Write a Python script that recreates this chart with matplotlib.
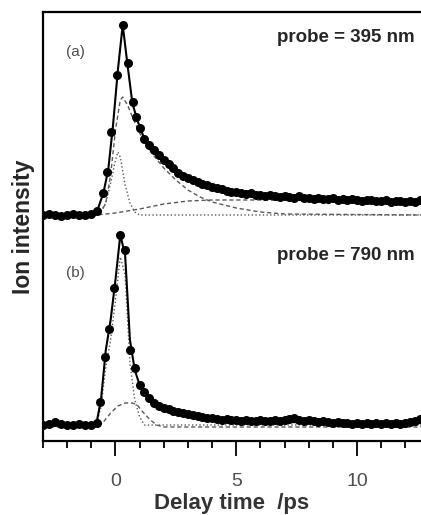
import numpy as np
import matplotlib
matplotlib.use('Agg')
import matplotlib.pyplot as plt
from matplotlib.ticker import MultipleLocator

plt.rcParams['font.family'] = ['Liberation Sans', 'DejaVu Sans']

# ---- panel (a), probe = 395 nm  (intensity above its own baseline) ----
a_x_pre = [-3.0, -2.75, -2.5, -2.25, -2.0, -1.75, -1.5, -1.25, -1.0]
a_h_pre = [0, 1, 0, -1, 0, 1, 0, 0, 1]
a_x_rise = [-0.75, -0.53, -0.36, -0.18, 0.08, 0.3, 0.5, 0.72, 0.86, 1.0]
a_h_rise = [4, 22, 43, 83, 140, 190, 152, 113, 98, 87]
a_x_tail = np.round(np.arange(1.2, 12.61, 0.2), 1)
a_h_tail = [76, 70, 65, 60, 55, 51, 47, 42, 39, 37, 35, 33, 31, 30, 28, 27, 26, 24,
            23, 23, 22, 21, 22, 20, 20, 19, 20, 19, 18, 19, 18, 17, 19, 17, 17, 16,
            17, 16, 16, 17, 15, 16, 15, 16, 15, 14, 15, 15, 14, 14, 15, 13, 14, 14,
            13, 14, 13, 15]

a_fit_x = [-3, -0.9, -0.7, -0.5, -0.3, -0.1, 0.1, 0.3, 0.5, 0.7, 0.9, 1.2, 1.6, 2.0,
           2.5, 3.0, 3.5, 4.0, 5, 6, 7, 8, 10, 12.65]
a_fit_h = [0, 0, 8, 22, 45, 90, 145, 190, 150, 112, 95, 76, 65, 55, 44, 37, 32, 28,
           23, 20, 18, 17, 15, 14]
a_short_x = [-3, -0.9, -0.6, -0.4, -0.2, 0.0, 0.1, 0.2, 0.4, 0.6, 0.8, 1.0, 12.65]
a_short_h = [0, 0, 3, 12, 32, 55, 63, 58, 30, 12, 3, 0, 0]
a_long_x = [-3, -0.9, -0.6, -0.4, -0.2, 0.0, 0.2, 0.3, 0.5, 0.7, 1.0, 1.5, 2.0, 2.5,
            3.0, 3.5, 4.0, 5.0, 6.0, 7.0, 12.65]
a_long_h = [0, 0, 3, 12, 40, 85, 115, 118, 110, 98, 82, 62, 47, 35, 25, 18, 13, 7, 3,
            1, 0]
a_slow_x = [-3, -0.8, 0, 1, 2, 3, 4, 5, 6, 8, 12.65]
a_slow_h = [0, 0, 2, 6, 11, 14, 15, 15, 15, 14.5, 14]

# ---- panel (b), probe = 790 nm ----
b_x_pre = [-3.0, -2.75, -2.5, -2.25, -2.0, -1.75, -1.5, -1.25, -1.0]
b_h_pre = [0, 1, 3, 1, 0, 0, 1, 0, 0]
b_x_rise = [-0.75, -0.66, -0.45, -0.25, -0.04, 0.17, 0.4, 0.62, 0.79, 1.0]
b_h_rise = [2, 23, 68, 96, 137, 190, 175, 75, 57, 40]
b_x_tail = np.round(np.arange(1.2, 12.61, 0.2), 1)
b_h_tail = [33, 27, 22, 19, 17, 16, 14, 13, 12, 11, 10, 9, 8, 7, 7, 6, 5, 6, 5, 5,
            4, 5, 4, 4, 5, 4, 4, 5, 4, 5, 6, 7, 5, 4, 5, 4, 3, 4, 3, 2, 3, 2, 2, 1,
            2, 1, 2, 1, 2, 1, 2, 1, 2, 1, 2, 3, 4, 6]

b_fit_x = [-3, -0.8, -0.6, -0.4, -0.2, 0.0, 0.2, 0.4, 0.6, 0.8, 1.0, 1.3, 1.6, 2.0,
           2.5, 3, 4, 5, 7, 10, 12.65]
b_fit_h = [0, 0, 25, 75, 105, 145, 190, 170, 85, 55, 40, 30, 24, 18, 14, 11, 7, 5, 3,
           2, 2]
b_short_x = [-3, -0.8, -0.6, -0.4, -0.2, 0, 0.2, 0.4, 0.6, 0.8, 1.0, 1.2, 12.65]
b_short_h = [0, 0, 18, 58, 85, 125, 168, 150, 62, 25, 8, 0, 0]
b_slow_x = [-3, -0.8, -0.5, -0.2, 0.1, 0.4, 0.7, 0.9, 1.1, 1.4, 1.7, 2.0, 12.65]
b_slow_h = [-2, -2, 3, 12, 19, 22, 22, 20, 14, 6, 0, -2, -2]

off_a = 226   # vertical offset of panel (a)
off_b = 16

fig = plt.figure(figsize=(4.21, 5.15), dpi=100)
ax = fig.add_axes([43/421, 1 - 441/515, 1 - 43/421, 429/515])

dash = (0, (3, 2))
ax.plot(a_short_x, np.array(a_short_h) + off_a, color='0.35', lw=1, ls=':')
ax.plot(a_long_x, np.array(a_long_h) + off_a, color='0.35', lw=1, ls=dash)
ax.plot(a_slow_x, np.array(a_slow_h) + off_a, color='0.35', lw=1, ls=dash)
ax.plot(b_short_x, np.array(b_short_h) + off_b, color='0.35', lw=1, ls=':')
ax.plot(b_slow_x, np.array(b_slow_h) + off_b, color='0.35', lw=1, ls=dash)

for off, fx, fh, xs, hs in [
        (off_a, a_fit_x, a_fit_h, [a_x_pre, a_x_rise, a_x_tail], [a_h_pre, a_h_rise, a_h_tail]),
        (off_b, b_fit_x, b_fit_h, [b_x_pre, b_x_rise, b_x_tail], [b_h_pre, b_h_rise, b_h_tail])]:
    ax.plot(fx, np.array(fh) + off, 'k-', lw=1.5)
    dx = np.concatenate(xs)
    dh = np.concatenate(hs)
    ax.plot(dx, dh + off, 'o', color='k', ms=6.5, mew=0)

ax.set_xlim(-3, 12.65)
ax.set_ylim(0, 429)
ax.xaxis.set_major_locator(MultipleLocator(5))
ax.xaxis.set_minor_locator(MultipleLocator(1))
ax.tick_params(axis='x', which='major', direction='out', length=11, width=1.3,
               labelsize=14, pad=12, labelcolor='0.3')
ax.tick_params(axis='x', which='minor', direction='out', length=5, width=1.3)
ax.set_yticks([])
ax.spines['right'].set_visible(False)
for s in ['left', 'top', 'bottom']:
    ax.spines[s].set_linewidth(1.6)

ax.set_xlabel('Delay time  /ps', fontsize=16, fontweight='bold', labelpad=2, color='0.2')
ax.set_ylabel('Ion intensity', fontsize=16.5, fontweight='bold', labelpad=6, color='0.15')

fig.text(415/421, 1 - 37/515, 'probe = 395 nm', ha='right', va='center',
         fontsize=13.5, fontweight='bold', color='0.15')
fig.text(415/421, 1 - 255/515, 'probe = 790 nm', ha='right', va='center',
         fontsize=13.5, fontweight='bold', color='0.15')
fig.text(75/421, 1 - 52/515, '(a)', ha='center', va='center', fontsize=11, color='0.3')
fig.text(75/421, 1 - 273/515, '(b)', ha='center', va='center', fontsize=11, color='0.3')

fig.savefig('out.png', dpi=100)
